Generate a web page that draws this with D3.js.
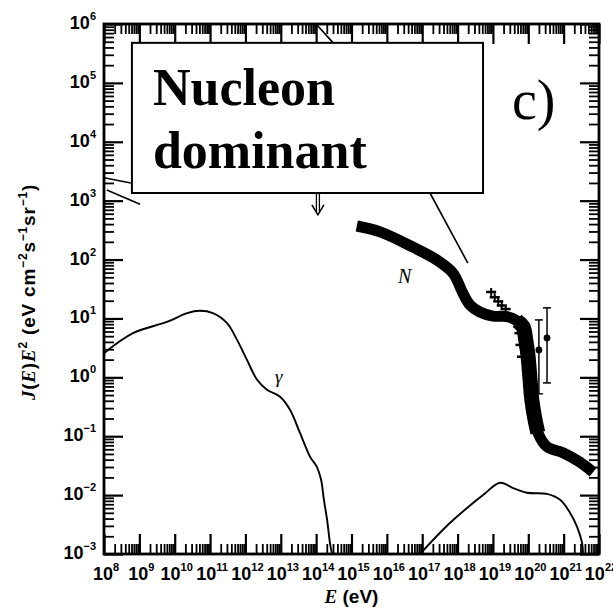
<!DOCTYPE html>
<html><head><meta charset="utf-8">
<script src="https://cdn.jsdelivr.net/npm/d3@7"></script>
<style>html,body{margin:0;padding:0;background:#fff;}</style>
</head><body>
<svg id="c" width="613" height="613"></svg>
<script>
// ---- data (log10 E [eV], log10 J(E)E^2) ----
const xExponents = [8,9,10,11,12,13,14,15,16,17,18,19,20,21,22];
const yExponents = [-3,-2,-1,0,1,2,3,4,5,6];
const nucleonCurve = [
  [15.15,2.57],[15.81,2.47],[16.74,2.21],[17.42,1.99],[17.87,1.77],[18.15,1.43],
  [18.35,1.23],[18.63,1.11],[19.00,1.04],[19.40,1.03],[19.68,0.96],[19.85,0.86],
  [19.93,0.63],[19.99,0.38],[20.05,-0.04],[20.10,-0.38],[20.19,-0.72],[20.27,-0.94],
  [20.53,-1.18],[20.98,-1.28],[21.46,-1.44],[21.83,-1.61]
];
const gammaCurve = [
  [8.00,0.41],[8.82,0.75],[9.78,0.94],[10.35,1.09],[10.71,1.13],[11.08,1.09],
  [11.48,0.92],[11.76,0.64],[12.04,0.30],[12.33,-0.04],[12.61,-0.21],[12.98,-0.33],
  [13.26,-0.55],[13.54,-0.94],[13.83,-1.35],[14.02,-1.52],[14.14,-1.74],[14.22,-2.08],
  [14.31,-2.42],[14.39,-2.81],[14.45,-3.0]
];
const lowerCurve = [
  [16.94,-3.0],[17.79,-2.47],[18.72,-2.0],[19.20,-1.79],[19.57,-1.88],[19.96,-1.96],
  [20.53,-1.98],[20.90,-2.08],[21.18,-2.30],[21.38,-2.54],[21.52,-2.81],[21.55,-3.0]
];
const upperLine = [[14.0,6.0],[14.48,5.68],[17.22,3.13],[18.29,1.94]];
const leftLine1 = [[8.0,3.39],[8.76,3.30]];
const leftLine2 = [[8.08,3.18],[9.02,2.94]];
const limitArrow = {x:14.05, from:3.2, to:2.76};
// error-bar points: [log10E, value, low, high]
const errPoints = [[20.30,0.465,-0.28,0.975],[20.53,0.67,-0.095,1.18]];
const agasaPoints = [[18.95,1.45],[19.05,1.36],[19.15,1.29],[19.25,1.22],[19.36,1.16],[19.75,0.75],[19.78,0.55],[19.82,0.35]];
const boxCorners = {x0:8.79, x1:18.72, y0:5.68, y1:3.13};

// ---- scales ----
const W=613,H=613;
const L=104,R=599,T=24,B=554;
const x = d3.scaleLog().domain([1e8,1e22]).range([L,R]);
const y = d3.scaleLog().domain([1e-3,1e6]).range([B,T]);
const px = d => x(Math.pow(10,d[0]));
const py = d => y(Math.pow(10,d[1]));
const svg = d3.select("#c");
svg.append("rect").attr("width",W).attr("height",H).attr("fill","#fff");

// ---- ticks ----
const majX = xExponents.map(e=>Math.pow(10,e));
const minX = []; xExponents.slice(0,-1).forEach(e=>{for(let k=2;k<10;k++)minX.push(k*Math.pow(10,e));});
const majY = yExponents.map(e=>Math.pow(10,e));
const minY = []; yExponents.slice(0,-1).forEach(e=>{for(let k=2;k<10;k++)minY.push(k*Math.pow(10,e));});

function drawAxis(gen, scale, vals, size, sw, transform){
  const g = svg.append("g").attr("transform",transform)
    .call(gen(scale).tickValues(vals).tickSizeInner(-size).tickSizeOuter(0).tickFormat(""));
  g.select(".domain").remove();
  g.selectAll("line").attr("stroke","#000").attr("stroke-width",sw);
}
drawAxis(d3.axisBottom,x,minX,10,1.8,`translate(0,${B})`);
drawAxis(d3.axisBottom,x,majX,20,2.2,`translate(0,${B})`);
drawAxis(d3.axisTop,x,minX,10,1.8,`translate(0,${T})`);
drawAxis(d3.axisTop,x,majX,20,2.2,`translate(0,${T})`);
drawAxis(d3.axisLeft,y,minY,10,1.8,`translate(${L},0)`);
drawAxis(d3.axisLeft,y,majY,19,2.2,`translate(${L},0)`);
drawAxis(d3.axisRight,y,minY,10,1.8,`translate(${R},0)`);
drawAxis(d3.axisRight,y,majY,19,2.2,`translate(${R},0)`);

svg.append("rect").attr("x",L).attr("y",T).attr("width",R-L).attr("height",B-T)
  .attr("fill","none").attr("stroke","#000").attr("stroke-width",2.8);

// ---- tick labels ----
const tickFont = "'Liberation Sans', Arial, sans-serif";
xExponents.forEach(e=>{
  const t = svg.append("text").attr("x",x(Math.pow(10,e))+2).attr("y",580)
    .attr("text-anchor","middle").attr("font-family",tickFont).attr("font-size",18).attr("font-weight","bold");
  t.append("tspan").text("10");
  t.append("tspan").attr("dy",-9).attr("font-size",11).text(String(e));
});
yExponents.forEach(e=>{
  const t = svg.append("text").attr("x",96).attr("y",y(Math.pow(10,e))+5)
    .attr("text-anchor","end").attr("font-family",tickFont).attr("font-size",18).attr("font-weight","bold");
  t.append("tspan").text("10");
  t.append("tspan").attr("dy",-9).attr("font-size",11).text(e<0?"\u2212"+(-e):String(e));
});

// ---- curves ----
const line = d3.line().x(px).y(py).curve(d3.curveCatmullRom.alpha(0.5));
const plain = d3.line().x(px).y(py);
svg.append("path").attr("d",plain(upperLine)).attr("fill","none").attr("stroke","#000").attr("stroke-width",1.6);
svg.append("path").attr("d",plain(leftLine1)).attr("fill","none").attr("stroke","#000").attr("stroke-width",1.6);
svg.append("path").attr("d",plain(leftLine2)).attr("fill","none").attr("stroke","#000").attr("stroke-width",1.6);
svg.append("path").attr("d",line(gammaCurve)).attr("fill","none").attr("stroke","#000").attr("stroke-width",1.9);
svg.append("path").attr("d",line(lowerCurve)).attr("fill","none").attr("stroke","#000").attr("stroke-width",1.9);
svg.append("path").attr("d",line(nucleonCurve)).attr("fill","none").attr("stroke","#000").attr("stroke-width",11).attr("stroke-linejoin","round");
svg.append("path").attr("d",line(nucleonCurve.slice(10,18))).attr("fill","none").attr("stroke","#000").attr("stroke-width",15).attr("stroke-linejoin","round");

// AGASA-like scatter
agasaPoints.forEach(d=>{
  const cx=px(d), cy=py(d);
  svg.append("line").attr("x1",cx-5).attr("x2",cx+5).attr("y1",cy).attr("y2",cy).attr("stroke","#000").attr("stroke-width",2.5);
  svg.append("line").attr("x1",cx).attr("x2",cx).attr("y1",cy-4).attr("y2",cy+4).attr("stroke","#000").attr("stroke-width",2);
});

// error bars
errPoints.forEach(d=>{
  const cx=px(d), cy=py(d), y0=y(Math.pow(10,d[2])), y1=y(Math.pow(10,d[3]));
  svg.append("line").attr("x1",cx).attr("x2",cx).attr("y1",y0).attr("y2",y1).attr("stroke","#000").attr("stroke-width",1.5);
  svg.append("line").attr("x1",cx-4).attr("x2",cx+4).attr("y1",y1).attr("y2",y1).attr("stroke","#000").attr("stroke-width",1.5);
  svg.append("line").attr("x1",cx-4).attr("x2",cx+4).attr("y1",y0).attr("y2",y0).attr("stroke","#000").attr("stroke-width",1.5);
  svg.append("circle").attr("cx",cx).attr("cy",cy).attr("r",3.4).attr("fill","#000");
});

// upper-limit arrow
{
  const ax=x(Math.pow(10,limitArrow.x)), a0=y(Math.pow(10,limitArrow.from)), a1=y(Math.pow(10,limitArrow.to));
  svg.append("line").attr("x1",ax-1.5).attr("x2",ax-1.5).attr("y1",a0).attr("y2",a1-3).attr("stroke","#000").attr("stroke-width",1.3);
  svg.append("line").attr("x1",ax+1.5).attr("x2",ax+1.5).attr("y1",a0).attr("y2",a1-3).attr("stroke","#000").attr("stroke-width",1.3);
  svg.append("path").attr("d",`M${ax-6},${a1-10}L${ax},${a1}L${ax+6},${a1-10}`).attr("fill","none").attr("stroke","#000").attr("stroke-width",1.6);
}

// ---- annotation box ----
const bx0=x(Math.pow(10,boxCorners.x0)), bx1=x(Math.pow(10,boxCorners.x1));
const by0=y(Math.pow(10,boxCorners.y0)), by1=y(Math.pow(10,boxCorners.y1));
svg.append("rect").attr("x",bx0).attr("y",by0).attr("width",bx1-bx0).attr("height",by1-by0)
  .attr("fill","#fff").attr("stroke","#000").attr("stroke-width",2);
const serif = "'Liberation Serif','Times New Roman',serif";
svg.append("text").attr("x",bx0+21).attr("y",by0+62).attr("font-family",serif).attr("font-weight","bold").attr("font-size",52).text("Nucleon");
svg.append("text").attr("x",bx0+21).attr("y",by0+125).attr("font-family",serif).attr("font-weight","bold").attr("font-size",52).text("dominant");
svg.append("text").attr("x",512).attr("y",119).attr("font-family",serif).attr("font-size",56).text("c)");

// curve labels
svg.append("text").attr("x",398).attr("y",283).attr("font-family",serif).attr("font-style","italic").attr("font-size",20).text("N");
svg.append("text").attr("x",275).attr("y",383).attr("font-family",serif).attr("font-style","italic").attr("font-size",19).text("\u03b3");

// ---- axis titles ----
{
  const t = svg.append("text").attr("x",(L+R)/2).attr("y",603).attr("text-anchor","middle")
    .attr("font-family",tickFont).attr("font-size",19).attr("font-weight","bold");
  t.append("tspan").attr("font-family",serif).attr("font-style","italic").text("E");
  t.append("tspan").text(" (eV)");
}
{
  const t = svg.append("text").attr("transform",`translate(35,292) rotate(-90)`)
    .attr("text-anchor","middle").attr("font-family",tickFont).attr("font-size",19)
    .attr("font-weight","bold").attr("letter-spacing",0.8);
  t.append("tspan").attr("font-family",serif).attr("font-style","italic").text("J");
  t.append("tspan").text("(");
  t.append("tspan").attr("font-family",serif).attr("font-style","italic").text("E");
  t.append("tspan").text(")");
  t.append("tspan").attr("font-family",serif).attr("font-style","italic").text("E");
  t.append("tspan").attr("dy",-8).attr("font-size",12).text("2");
  t.append("tspan").attr("dy",8).text(" (eV cm");
  t.append("tspan").attr("dy",-8).attr("font-size",12).text("\u22122");
  t.append("tspan").attr("dy",8).text("s");
  t.append("tspan").attr("dy",-8).attr("font-size",12).text("\u22121");
  t.append("tspan").attr("dy",8).text("sr");
  t.append("tspan").attr("dy",-8).attr("font-size",12).text("\u22121");
  t.append("tspan").attr("dy",8).text(")");
}
</script>
</body></html>
